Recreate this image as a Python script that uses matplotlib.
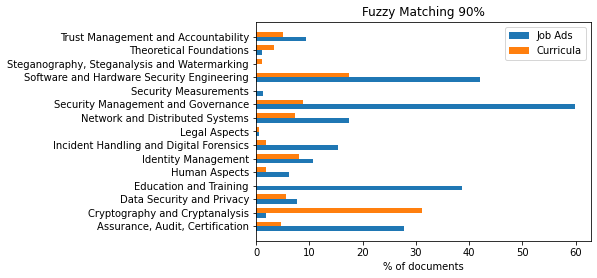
import numpy as np
import matplotlib
matplotlib.use("Agg")
import matplotlib.pyplot as plt

categories = [
    "Assurance, Audit, Certification",
    "Cryptography and Cryptanalysis",
    "Data Security and Privacy",
    "Education and Training",
    "Human Aspects",
    "Identity Management",
    "Incident Handling and Digital Forensics",
    "Legal Aspects",
    "Network and Distributed Systems",
    "Security Management and Governance",
    "Security Measurements",
    "Software and Hardware Security Engineering",
    "Steganography, Steganalysis and Watermarking",
    "Theoretical Foundations",
    "Trust Management and Accountability",
]
job_ads = [27.8, 1.9, 7.7, 38.6, 6.2, 10.7, 15.4, 0.5, 17.5, 59.9, 1.25, 42.1, 0.0, 1.1, 9.3]
curricula = [4.7, 31.2, 5.6, 0.0, 1.9, 8.1, 1.9, 0.5, 7.3, 8.8, 0.0, 17.5, 1.1, 3.4, 5.0]

y = np.arange(len(categories))
width = 0.35

fig = plt.figure(figsize=(597 / 72, 278 / 72), dpi=72)
ax = fig.add_axes([256 / 597, 37 / 278, 335 / 597, 219 / 278])
ax.barh(y - width / 2, job_ads, width, label="Job Ads")
ax.barh(y + width / 2, curricula, width, label="Curricula")
ax.set_yticks(y)
ax.set_yticklabels(categories)
ax.set_xlabel("% of documents")
ax.set_title("Fuzzy Matching 90%")
ax.legend()

fig.savefig("out.png", dpi=72)
